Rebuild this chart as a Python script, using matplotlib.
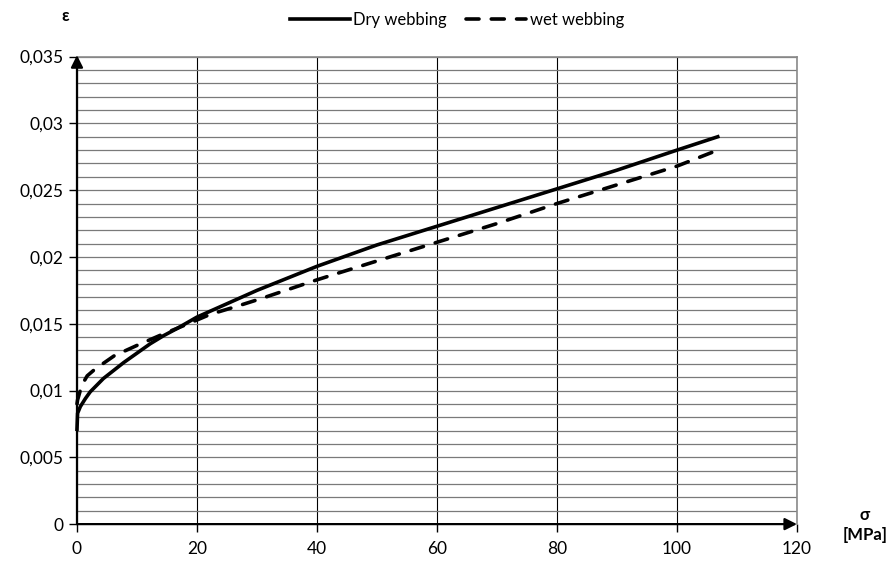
import numpy as np
import matplotlib.pyplot as plt
from matplotlib.ticker import MultipleLocator, FuncFormatter

# stress [MPa] / strain readings for both webbings
dry_sigma = [0, 0.1, 0.56, 1.4, 2.2, 3.3, 4.4, 6.1, 7.8, 10, 12.2, 14.4, 16.7, 20,
             25, 30, 35, 40, 45, 50, 60, 70, 80, 90, 100, 106.8]
dry_eps = [0.0071, 0.0083, 0.0088, 0.0094, 0.0099, 0.0104, 0.0109, 0.0115, 0.0121,
           0.0128, 0.0135, 0.0141, 0.01465, 0.0155, 0.0165, 0.0175, 0.0184, 0.0193,
           0.0201, 0.0209, 0.0223, 0.0237, 0.0251, 0.0265, 0.0280, 0.0290]

wet_sigma = [0, 0.1, 0.8, 1.7, 3.0, 6.2, 10.1, 14.2, 18, 22.2, 26.6, 30.8, 35.1, 39.4,
             43.6, 50, 60, 70, 80, 90, 100, 106.8]
wet_eps = [0.0090, 0.0093, 0.0104, 0.0111, 0.0116, 0.0126, 0.0134, 0.0142, 0.0149,
           0.0157, 0.0163, 0.0169, 0.01755, 0.0182, 0.0188, 0.0197, 0.0211, 0.0225,
           0.0240, 0.0254, 0.0268, 0.0280]

plt.rcParams['font.family'] = ['Lato', 'DejaVu Sans']

fig = plt.figure(figsize=(8.87, 5.66), dpi=100)
ax = fig.add_axes([0.0868, 0.074, 0.8117, 0.826])

ax.set_xlim(0, 120)
ax.set_ylim(0, 0.035)

# grid
ax.xaxis.set_major_locator(MultipleLocator(20))
ax.yaxis.set_major_locator(MultipleLocator(0.005))
ax.yaxis.set_minor_locator(MultipleLocator(0.001))
ax.grid(which='major', axis='x', color='black', lw=0.8)
ax.grid(which='both', axis='y', color='#7a7a7a', lw=0.9)
ax.set_axisbelow(True)

ax.yaxis.set_major_formatter(FuncFormatter(lambda v, p: ('%g' % round(v, 4)).replace('.', ',')))
ax.tick_params(axis='both', which='major', direction='out', length=6, width=1,
               labelsize=12.5, color='black')
ax.tick_params(axis='y', which='minor', length=0)
ax.tick_params(axis='x', pad=6)

for s in ['top', 'right']:
    ax.spines[s].set_color('#8a8a8a')
    ax.spines[s].set_linewidth(1.2)
ax.spines['left'].set_visible(False)
ax.spines['bottom'].set_visible(False)

# axis arrows
ax.annotate('', xy=(0, 1.003), xytext=(0, 0), xycoords='axes fraction',
            arrowprops=dict(arrowstyle='-|>', color='black', lw=1.6,
                            mutation_scale=18, shrinkA=0, shrinkB=0), annotation_clip=False)
ax.annotate('', xy=(1.0, 0), xytext=(0, 0), xycoords='axes fraction',
            arrowprops=dict(arrowstyle='-|>', color='black', lw=1.6,
                            mutation_scale=18, shrinkA=0, shrinkB=0), annotation_clip=False)

ax.plot(dry_sigma, dry_eps, color='black', lw=2.6, label='Dry webbing', clip_on=False,
        solid_joinstyle='round')
ax.plot(wet_sigma, wet_eps, color='black', lw=2.6, dashes=(3.6, 3.4),
        dash_capstyle='round', label='wet webbing', clip_on=False)

fig.text(0.073, 0.972, 'ε', fontsize=12, fontweight='bold', ha='center', va='center')
fig.text(0.975, 0.072, 'σ\n[MPa]', fontsize=12, fontweight='bold', ha='center',
         va='center', linespacing=1.3)

fig.legend(loc='upper center', bbox_to_anchor=(0.515, 1.005), ncol=2, frameon=False,
           fontsize=12, handlelength=3.6, columnspacing=1.2, handletextpad=0.2)

fig.savefig('out.png', dpi=100)
